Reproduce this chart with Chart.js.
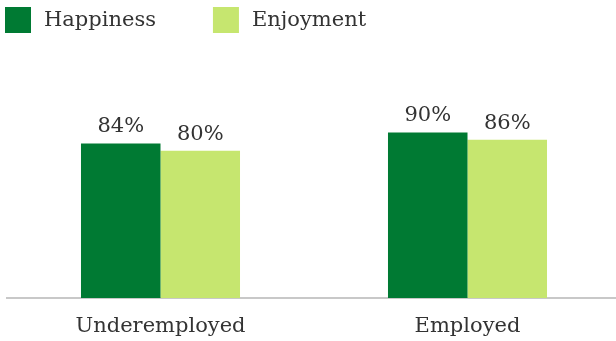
<!DOCTYPE html>
<html>
<head>
<meta charset="utf-8">
<script src="https://cdn.jsdelivr.net/npm/chart.js@4/dist/chart.umd.min.js"></script>
<style>
  html, body { margin: 0; padding: 0; background: #ffffff; overflow: hidden; }
  #wrap { width: 616px; height: 341px; overflow: hidden; }
  canvas { display: block; }
</style>
</head>
<body>
<div id="wrap"><canvas id="chart" width="622" height="341"></canvas></div>
<script>
// Categories and series
const categories = ['Underemployed', 'Employed'];
const seriesNames = ['Happiness', 'Enjoyment'];
const happiness = [84, 90];
const enjoyment = [80, 86];
const seriesColors = ['#007a33', '#c6e66f'];

const FONT_FAMILY = '"DejaVu Serif", "Liberation Serif", Georgia, serif';
const TEXT_COLOR = '#333333';

// Square-swatch legend drawn across the top left
const topLegend = {
  id: 'topLegend',
  afterDraw(chart) {
    const ctx = chart.ctx;
    const size = 26, gapText = 13, gapItem = 57;
    let x = 5;
    const y = 7;
    ctx.save();
    ctx.font = '21px ' + FONT_FAMILY;
    ctx.textBaseline = 'middle';
    ctx.textAlign = 'left';
    chart.data.datasets.forEach(ds => {
      ctx.fillStyle = ds.backgroundColor;
      ctx.fillRect(x, y, size, size);
      ctx.fillStyle = TEXT_COLOR;
      ctx.fillText(ds.label, x + size + gapText, y + size / 2 + 1);
      x += size + gapText + ctx.measureText(ds.label).width + gapItem;
    });
    ctx.restore();
  }
};

// Percentage labels above each bar
const valueLabels = {
  id: 'valueLabels',
  afterDatasetsDraw(chart) {
    const ctx = chart.ctx;
    ctx.save();
    ctx.font = '21px ' + FONT_FAMILY;
    ctx.fillStyle = TEXT_COLOR;
    ctx.textAlign = 'center';
    ctx.textBaseline = 'alphabetic';
    chart.data.datasets.forEach((ds, di) => {
      const meta = chart.getDatasetMeta(di);
      meta.data.forEach((bar, i) => {
        ctx.fillText(ds.data[i] + '%', bar.x, bar.y - 11);
      });
    });
    ctx.restore();
  }
};

new Chart(document.getElementById('chart'), {
  type: 'bar',
  data: {
    labels: categories,
    datasets: [
      { label: seriesNames[0], data: happiness, backgroundColor: seriesColors[0] },
      { label: seriesNames[1], data: enjoyment, backgroundColor: seriesColors[1] }
    ]
  },
  options: {
    responsive: false,
    animation: false,
    devicePixelRatio: 1,
    layout: { padding: { top: 114, left: 7, right: 1, bottom: 0 } },
    categoryPercentage: 0.518,
    barPercentage: 1,
    plugins: {
      legend: { display: false },
      tooltip: { enabled: false }
    },
    scales: {
      x: {
        grid: { display: false, drawTicks: false },
        border: { display: true, color: '#c8c8c8', width: 2 },
        ticks: {
          color: TEXT_COLOR,
          padding: 16,
          font: { family: FONT_FAMILY, size: 21 }
        },
        afterFit(scale) { scale.height = 43; }
      },
      y: {
        display: false,
        min: 0,
        max: 100
      }
    }
  },
  plugins: [topLegend, valueLabels]
});
</script>
</body>
</html>
